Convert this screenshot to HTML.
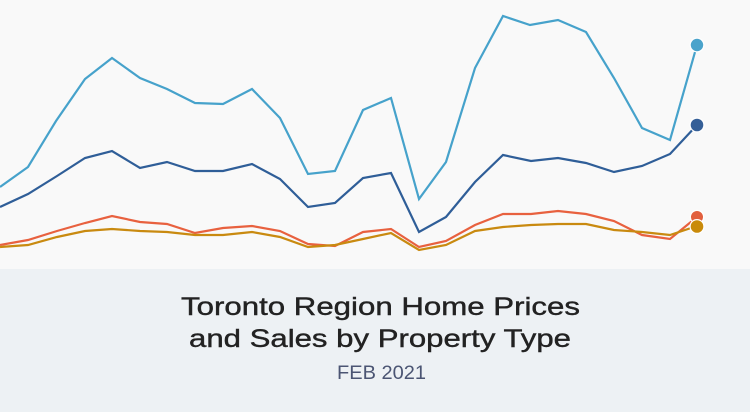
<!DOCTYPE html>
<html>
<head>
<meta charset="utf-8">
<style>
html,body{margin:0;padding:0;background:#f9f9f9;}
svg{display:block;}
</style>
</head>
<body>
<svg width="750" height="412" viewBox="0 0 750 412" xmlns="http://www.w3.org/2000/svg">
<rect x="0" y="0" width="750" height="269" fill="#f9f9f9"/>
<rect x="0" y="269" width="750" height="143" fill="#edf1f4"/>
<g fill="none" stroke-width="2.2" stroke-linejoin="miter" stroke-linecap="butt">
<polyline stroke="#46a2cb" points="0,187 28,167 56,121 85,79 112,58 140,78 167,89 195,103 223,104 252,89 280,118 308,174 335,171 363,110 391,98 419,199 446,162 475,68 503,16 530,25 558,20 586,32 614,78 642,128 670,140 697,45"/>
<polyline stroke="#2f5e98" points="0,207 28,194 57,176 85,158 112,151 140,168 167,162 195,171 223,171 252,164 280,179 308,207 335,203 363,178 391,173 419,232 446,217 475,182 503,155 531,161 558,158 586,163 614,172 642,166 670,154 697,125"/>
<polyline stroke="#e8613f" points="0,245 28,240 57,231 85,223 112,216 140,222 167,224 195,233 223,228 252,226 280,231 308,244 335,246 363,232 391,229 419,247 446,241 475,225 503,214 531,214 558,211 586,214 614,221 642,235 670,239 697,217"/>
<polyline stroke="#c98a10" points="0,247 28,245 57,237 85,231 112,229 140,231 167,232 195,235 223,235 252,232 280,237 308,247 335,245 363,239 391,233 419,250 446,245 475,231 503,227 531,225 558,224 586,224 614,230 642,232 670,235 697,226"/>
</g>
<g stroke="#ffffff" stroke-width="1.2">
<circle cx="697" cy="45" r="6.8" fill="#4aa3cb"/>
<circle cx="697" cy="125" r="6.9" fill="#355f97"/>
<circle cx="697" cy="217" r="6.6" fill="#e2603e"/>
<circle cx="697" cy="226.5" r="6.9" fill="#c98a0a"/>
</g>
<g font-family="'Liberation Sans', sans-serif" text-anchor="middle">
<text x="380.5" y="315" font-size="25" fill="#222222" stroke="#222222" stroke-width="0.4" textLength="399" lengthAdjust="spacingAndGlyphs">Toronto Region Home Prices</text>
<text x="380" y="347" font-size="25" fill="#222222" stroke="#222222" stroke-width="0.4" textLength="382" lengthAdjust="spacingAndGlyphs">and Sales by Property Type</text>
<text x="381.5" y="379" font-size="19" fill="#4b5573" textLength="89" lengthAdjust="spacingAndGlyphs">FEB 2021</text>
</g>
</svg>
</body>
</html>
